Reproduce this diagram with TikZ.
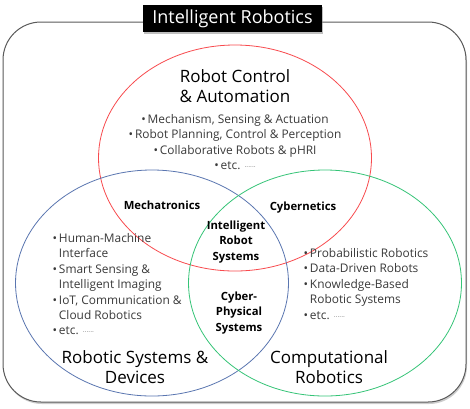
\documentclass[tikz,border=0pt]{standalone}
\usepackage{fontspec}
\setmainfont{Open Sans}
\usetikzlibrary{shapes.geometric,shadows}
\definecolor{irred}  {HTML}{F84A4E}
\definecolor{irblue} {HTML}{5A76B0}
\definecolor{irgreen}{HTML}{35C477}
\definecolor{irgray} {HTML}{5A5A5A}
\definecolor{irtext} {HTML}{3A3A3A}
\newcommand{\bul}{\textbullet\,}
\newcommand{\ind}{\hphantom{\bul}}
\newcommand{\dts}{{\color{irgray!70}\scriptsize ······}}

\begin{document}
\begin{tikzpicture}[x=1pt, y=-1pt,
      field/.style={ellipse, draw, line width=0.8pt, inner sep=0pt,
                    minimum width=273pt, minimum height=226pt},
      head/.style={align=center, font=\fontsize{17}{20}\selectfont},
      joint/.style={align=center, font=\bfseries\fontsize{11.3}{15.5}\selectfont},
      list/.style={text=irtext, font=\fontsize{11.9}{15.4}\selectfont},
    ]
      \useasboundingbox (0,0) rectangle (470,408);
      \draw[irgray, line width=1pt, rounded corners=38pt, fill=white,
            drop shadow={shadow xshift=1pt, shadow yshift=-2pt, opacity=0.4}]
        (3,22) rectangle (466,402);

      \node[field, draw=irred]   (control) at (235,158) {};
      \node[field, draw=irblue]  (systems) at (152,283) {};
      \node[field, draw=irgreen] (comp)    at (325,283) {};

      \node[fill=black, text=white, minimum width=179pt, minimum height=27pt,
            font=\fontsize{18}{20}\selectfont,
            drop shadow={shadow xshift=1pt, shadow yshift=-1.5pt, opacity=0.5}]
        (title) at (232.5,18.5) {Intelligent Robotics};

      \node[head] (controlhd) at (235,86) {Robot Control\\\& Automation};
      \node[list, align=center] (controlls) at (235,142)
        {\bul Mechanism, Sensing \& Actuation\\
         \bul Robot Planning, Control \& Perception\\
         \bul Collaborative Robots \& pHRI\\
         \bul etc. \dts};

      \node[joint] (mech)  at (162,205) {Mechatronics};
      \node[joint] (cyber) at (303,208) {Cybernetics};
      \node[joint] (irs)   at (236,242) {Intelligent\\Robot\\Systems};
      \node[joint] (cps)   at (239,313) {Cyber-\\Physical\\Systems};

      \node[list, align=left, anchor=north west] (systemsls) at (49,230)
        {\bul Human-Machine\\
         \ind Interface\\
         \bul Smart Sensing \&\\
         \ind Intelligent Imaging\\
         \bul IoT, Communication \&\\
         \ind Cloud Robotics\\
         \bul etc. \dts};
      \node[list, align=left, anchor=north west] (compls) at (300,245)
        {\bul Probabilistic Robotics\\
         \bul Data-Driven Robots\\
         \bul Knowledge-Based\\
         \ind Robotic Systems\\
         \bul etc. \dts};

      \node[head] (systemshd) at (135,367) {Robotic Systems \&\\Devices};
      \node[head] (comphd)    at (329,367) {Computational\\Robotics};
    \end{tikzpicture}
\end{document}
